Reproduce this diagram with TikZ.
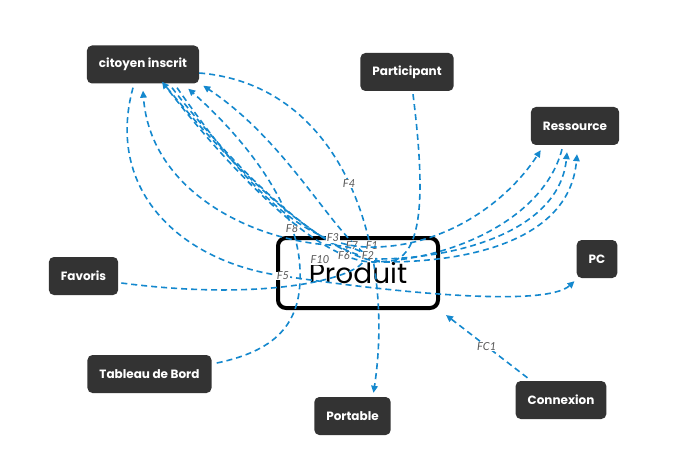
\documentclass[tikz,border=0pt]{standalone}
\usepackage{fontspec}
\setmainfont{Poppins}
\newfontfamily\etiquette{Lato}
\usetikzlibrary{arrows.meta}
\definecolor{fleche}{RGB}{20,136,206}
\definecolor{fond}{RGB}{51,51,51}
\tikzset{
	box/.style = { font=\bfseries\fontsize{12}{14}\selectfont, text=white, fill=fond, rounded corners=5pt, minimum height=38pt, inner xsep=12pt },
	centre/.style = { font=\fontsize{28}{30}\selectfont, draw=black, line width=4pt, fill=white, rounded corners=8pt, minimum width=160pt, minimum height=70pt },
	lien/.style = { line width=1.6pt, color=fleche, dash pattern=on 6pt off 4pt },
	arrow/.style = { lien, -{Triangle[length=7pt,width=6.5pt]} },
	flab/.style = { font=\etiquette\itshape\fontsize{11}{12}\selectfont, text=black!65, fill=white, inner sep=0.5pt },
}

\begin{document}
\begin{tikzpicture}[x=1pt, y=-1pt]
\fill[white] (0,0) rectangle (684,465);
\useasboundingbox (0,0) rectangle (684,465);

\node[centre] (produit) at (358,273) {Produit};
\node[box] (citoyen) at (143,64.5) {citoyen inscrit};
\node[box] (participant) at (407,72) {Participant};
\node[box] (ressource) at (575,126) {Ressource};
\node[box] (pc) at (597,259) {PC};
\node[box] (favoris) at (83.5,276) {Favoris};
\node[box] (tableau) at (149.5,374) {Tableau de Bord};
\node[box] (portable) at (352.5,416) {Portable};
\node[box] (connexion) at (561,400) {Connexion};

\draw[arrow] ([yshift=-8.5pt]citoyen.east) .. controls (345,85) and (395,250) .. ([xshift=21pt,yshift=4pt]portable.north) node[flab, pos=0.5] {F4};
\draw[arrow] ([xshift=6pt,yshift=-3pt]participant.south) .. controls (425,190) and (425,262) .. (385,262) .. controls (345,262) and (300,150) .. ([xshift=4pt,yshift=-2pt]citoyen.south east) node[flab] at (352,246) {F7};
\draw[arrow] ([xshift=3pt,yshift=-7pt]favoris.east) .. controls (330,310) and (420,250) .. (330,245) node[flab] at (320,260) {F10} .. controls (250,240) and (150,190) .. ([yshift=-7pt]citoyen.south);
\draw[arrow] ([xshift=5pt,yshift=11pt]tableau.east) .. controls (280,350) and (302,320) .. (300,270) .. controls (298,200) and (235,130) .. ([xshift=-11pt,yshift=-5pt]citoyen.south east) node[flab, pos=0.2] {F8};
\draw[arrow] ([xshift=-10pt,yshift=-4pt]citoyen.south) .. controls (105,190) and (180,262) .. (283,276) node[flab] {F5} .. controls (390,292) and (545,308) .. ([xshift=-2pt,yshift=-3pt]pc.south west);
\draw[arrow] ([xshift=-13pt,yshift=-4pt]ressource.south) .. controls (545,215) and (460,258) .. (375,262) .. controls (320,264) and (230,170) .. ([xshift=19pt,yshift=2pt]citoyen.south) node[flab] at (372,246) {F1};
\draw[arrow] ([xshift=24pt,yshift=-4pt]citoyen.south) .. controls (235,170) and (325,258) .. (380,259) node[flab] at (368,256) {F2} .. controls (460,258) and (560,230) .. ([xshift=-8pt,yshift=-7pt]ressource.south);
\draw[arrow] ([xshift=29pt,yshift=-4pt]citoyen.south) .. controls (235,170) and (330,262) .. (385,262) node[flab] at (344,256) {F6} .. controls (470,262) and (570,240) .. ([xshift=2pt,yshift=-9pt]ressource.south);
\draw[arrow] ([xshift=34pt,yshift=-4pt]citoyen.south) .. controls (235,170) and (295,245) .. (367,247) node[flab] at (333,238) {F3} .. controls (440,249) and (505,205) .. ([xshift=10pt,yshift=-5pt]ressource.south west);
\draw[arrow] ([xshift=12pt,yshift=3pt]connexion.north west) -- ([xshift=6pt,yshift=-5pt]produit.south east) node[flab, pos=0.5] {FC1};
\end{tikzpicture}
\end{document}
